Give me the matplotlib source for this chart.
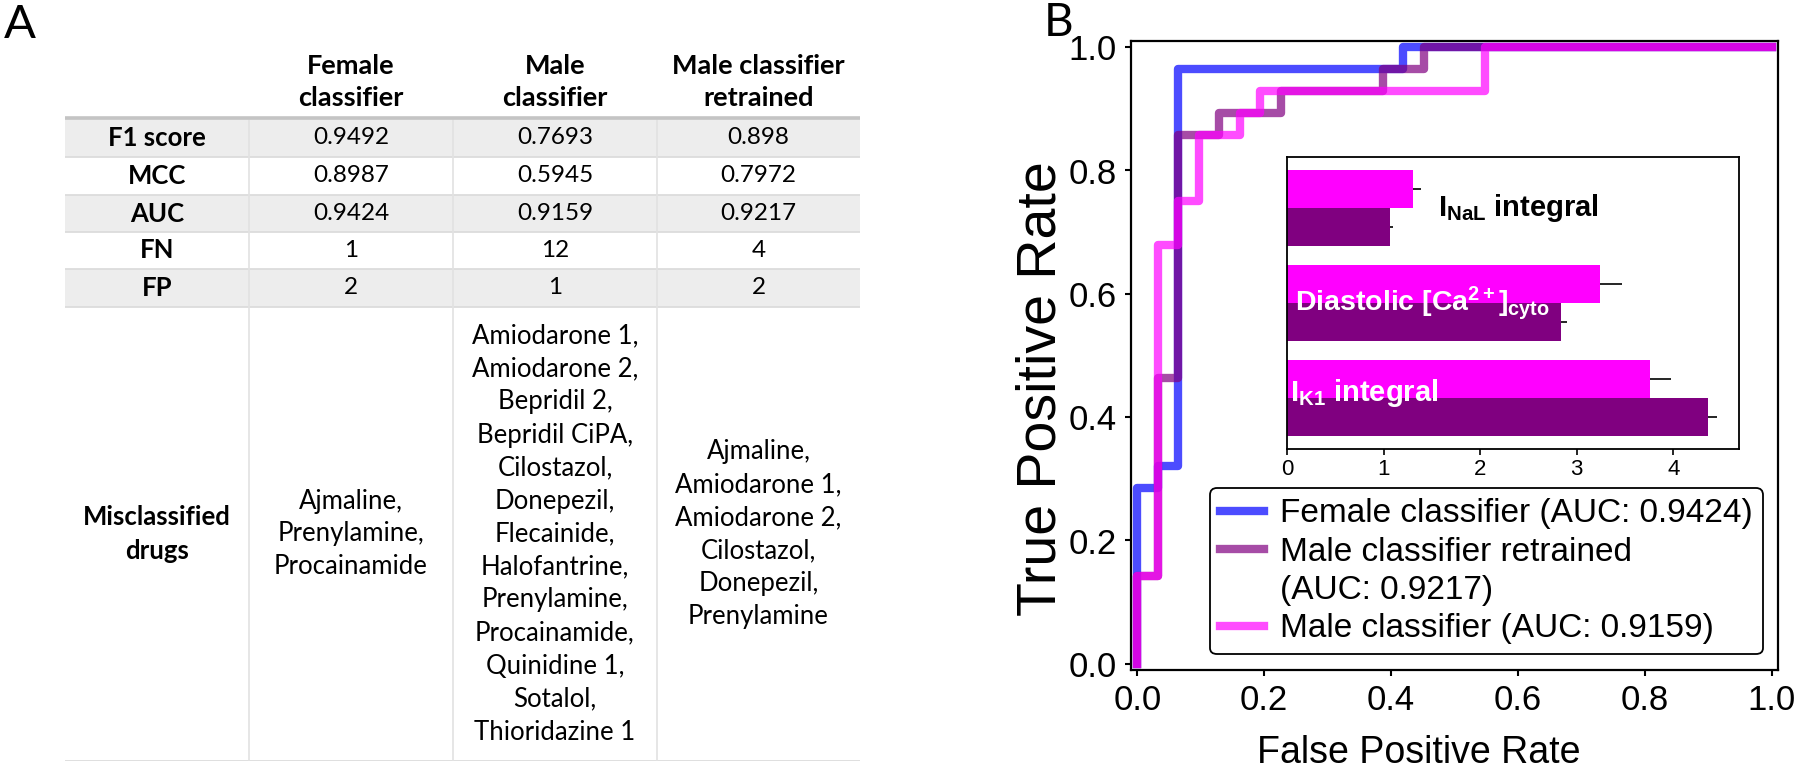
import matplotlib
matplotlib.use('Agg')
import matplotlib.pyplot as plt
from matplotlib.lines import Line2D
import numpy as np

plt.rcParams['font.family'] = ['Liberation Sans', 'DejaVu Sans']
plt.rcParams['mathtext.fontset'] = 'custom'
plt.rcParams['mathtext.rm'] = 'Liberation Sans'
plt.rcParams['mathtext.bf'] = 'Liberation Sans:bold'
plt.rcParams['mathtext.it'] = 'Liberation Sans:italic'

# ---------------- Panel A data (table) ----------------
col_labels = ['Female\nclassifier', 'Male\nclassifier', 'Male classifier\nretrained']
row_labels = ['F1 score', 'MCC', 'AUC', 'FN', 'FP', 'Misclassified\ndrugs']
f1_scores = ['0.9492', '0.7693', '0.898']
mcc_scores = ['0.8987', '0.5945', '0.7972']
auc_scores = ['0.9424', '0.9159', '0.9217']
fn_counts = ['1', '12', '4']
fp_counts = ['2', '1', '2']
misclassified_female = ['Ajmaline', 'Prenylamine', 'Procainamide']
misclassified_male = ['Amiodarone 1', 'Amiodarone 2', 'Bepridil 2', 'Bepridil CiPA',
                      'Cilostazol', 'Donepezil', 'Flecainide', 'Halofantrine',
                      'Prenylamine', 'Procainamide', 'Quinidine 1', 'Sotalol',
                      'Thioridazine 1']
misclassified_retrained = ['Ajmaline', 'Amiodarone 1', 'Amiodarone 2', 'Cilostazol',
                           'Donepezil', 'Prenylamine']

# ---------------- Panel B data (ROC) ----------------
n_negatives = 31
n_positives = 28
female_fp = [0, 0, 1, 1, 2, 2, 13, 13, 31]
female_tp = [0, 8, 8, 9, 9, 27, 27, 28, 28]
retrained_fp = [0, 0, 1, 1, 2, 2, 4, 4, 7, 7, 12, 12, 14, 14, 31]
retrained_tp = [0, 4, 4, 13, 13, 24, 24, 25, 25, 26, 26, 27, 27, 28, 28]
male_fp = [0, 0, 1, 1, 2, 2, 3, 3, 5, 5, 6, 6, 17, 17, 31]
male_tp = [0, 4, 4, 19, 19, 21, 21, 24, 24, 25, 25, 26, 26, 28, 28]
female_label = 'Female classifier (AUC: 0.9424)'
retrained_label = ['Male classifier retrained', '(AUC: 0.9217)']
male_label = 'Male classifier (AUC: 0.9159)'

# inset feature importances
features = [r'$\mathbf{I_{NaL}}$ integral',
            r'$\mathbf{Diastolic\ [Ca^{2+}]_{cyto}}$',
            r'$\mathbf{I_{K1}}$ integral']
male_importance = [1.30, 3.24, 3.76]
male_err = [0.09, 0.23, 0.22]
retrained_importance = [1.07, 2.84, 4.36]
retrained_err = [0.03, 0.06, 0.09]

W, H = 1800, 772
fig = plt.figure(figsize=(W / 100, H / 100), dpi=100)

# ================= Panel A =================
tfont = 'Lato'
fig.text(4 / W, 1 - 4 / H, 'A', fontsize=34, family=tfont, va='top', ha='left')
ax_t = fig.add_axes([65 / W, 11 / H, 795 / W, 721 / H])
ax_t.set_xlim(0, 795)
ax_t.set_ylim(643, -78)
ax_t.axis('off')
col_edges = [0, 184, 388, 592, 795]
row_edges = [0, 39, 77, 114, 151, 189, 643]
for i in (0, 2, 4):
    ax_t.axhspan(row_edges[i], row_edges[i + 1], color='#EDEDED', lw=0, zorder=0)
for y in row_edges[1:]:
    ax_t.axhline(y, color='#DCDCDC', lw=1.3, zorder=1)
ax_t.axhline(0, color='#C4C4C4', lw=2.6, zorder=2)
for x in col_edges[1:4]:
    ax_t.plot([x, x], [0, 643], color='#E2E2E2', lw=1.2, zorder=1)

col_c = [(col_edges[i] + col_edges[i + 1]) / 2 for i in range(4)]
row_c = [(row_edges[i] + row_edges[i + 1]) / 2 for i in range(6)]
for j, lab in enumerate(col_labels):
    ax_t.text(col_c[j + 1], -36, lab, ha='center', va='center', fontsize=19.5,
              fontweight='bold', family=tfont, linespacing=1.42)
for i, lab in enumerate(row_labels):
    ax_t.text(col_c[0], row_c[i], lab, ha='center', va='center', fontsize=18.5,
              fontweight='bold', family=tfont, linespacing=1.49)
value_rows = [f1_scores, mcc_scores, auc_scores, fn_counts, fp_counts]
for i, vals in enumerate(value_rows):
    for j, v in enumerate(vals):
        ax_t.text(col_c[j + 1], row_c[i], v, ha='center', va='center',
                  fontsize=17.5, family=tfont)
for j, drugs in enumerate([misclassified_female, misclassified_male,
                           misclassified_retrained]):
    ax_t.text(col_c[j + 1], row_c[5], ',\n'.join(drugs), ha='center', va='center',
              fontsize=18.5, family=tfont, linespacing=1.40)

# ================= Panel B =================
fig.text(1044 / W, 1 - 2 / H, 'B', fontsize=33, family=tfont, va='top', ha='left')
ax = fig.add_axes([1131 / W, 1 - 670 / H, 647 / W, 629 / H])
l1, = ax.plot(np.array(female_fp) / n_negatives, np.array(female_tp) / n_positives,
              color='blue', alpha=0.7, lw=6)
l2, = ax.plot(np.array(retrained_fp) / n_negatives, np.array(retrained_tp) / n_positives,
              color='purple', alpha=0.7, lw=6)
l3, = ax.plot(np.array(male_fp) / n_negatives, np.array(male_tp) / n_positives,
              color='magenta', alpha=0.7, lw=6)
blank = Line2D([], [], color='none')
ax.set_xlim(-0.01, 1.01)
ax.set_ylim(-0.01, 1.01)
ax.set_xticks([0, 0.2, 0.4, 0.6, 0.8, 1.0])
ax.set_yticks([0, 0.2, 0.4, 0.6, 0.8, 1.0])
ax.tick_params(labelsize=25, length=4, width=1.5, pad=6)
for s in ax.spines.values():
    s.set_linewidth(1.6)
ax.set_xlabel('False Positive Rate', fontsize=27)
ax.set_ylabel('True Positive Rate', fontsize=40)
ax.xaxis.set_label_coords(0.445, -0.103)
ax.yaxis.set_label_coords(-0.098, 0.447)
leg = ax.legend([l1, l2, blank, l3],
                [female_label, retrained_label[0], retrained_label[1], male_label],
                loc='lower right', bbox_to_anchor=(0.977, 0.025), borderaxespad=0,
                fontsize=24, frameon=True, fancybox=True, framealpha=1,
                edgecolor='black', handlelength=1.3, handletextpad=0.5,
                labelspacing=0.22, borderpad=0.3)
leg.get_frame().set_linewidth(1.3)

# inset
ax_in = fig.add_axes([1287 / W, 1 - 449 / H, 452 / W, 292 / H])
ax_in.set_facecolor('white')
ypos = np.arange(len(features))
ax_in.barh(ypos - 0.2, male_importance, height=0.4, color='#FF00FF',
           xerr=[np.zeros(3), male_err], error_kw=dict(ecolor='black', lw=1.2, capsize=0))
ax_in.barh(ypos + 0.2, retrained_importance, height=0.4, color='#800080',
           xerr=[np.zeros(3), retrained_err], error_kw=dict(ecolor='black', lw=1.2, capsize=0))
ax_in.set_xlim(0, 4.68)
ax_in.set_ylim(2.537, -0.537)
ax_in.set_yticks([])
ax_in.set_xticks([0, 1, 2, 3, 4])
ax_in.tick_params(labelsize=16, length=4, width=1.2)
for s in ax_in.spines.values():
    s.set_linewidth(1.3)
ax_in.text(1.56, 0, features[0], color='black', fontsize=21, fontweight='bold',
           va='center', ha='left')
ax_in.text(0.08, 1, features[1], color='white', fontsize=20.5, fontweight='bold',
           va='center', ha='left')
ax_in.text(0.03, 1.95, features[2], color='white', fontsize=21, fontweight='bold',
           va='center', ha='left')

fig.savefig('out.png', dpi=100)
